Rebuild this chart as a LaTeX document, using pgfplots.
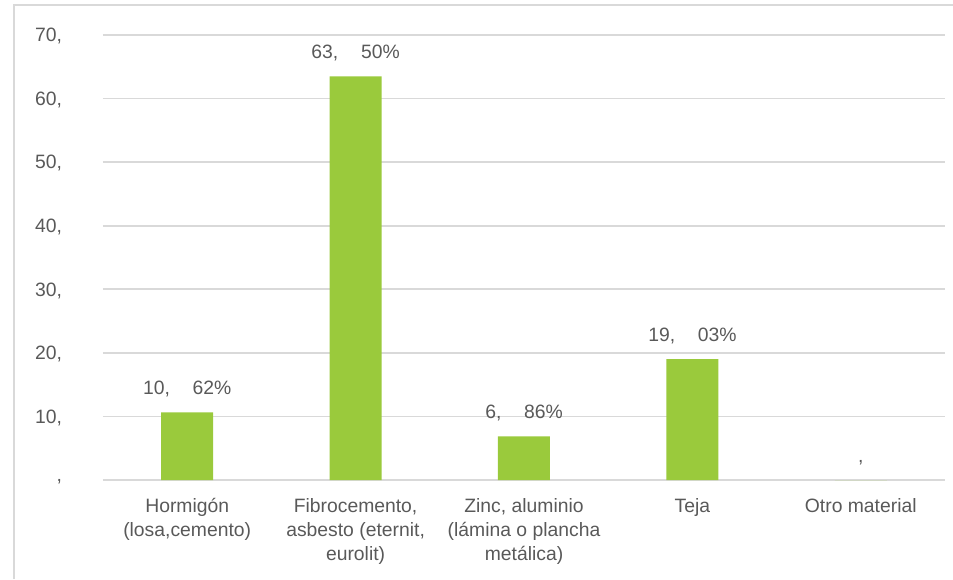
\documentclass[border=0pt]{standalone}
\usepackage{pgfplots}
\pgfplotsset{compat=1.18}
\usepackage{fontspec}
\setmainfont{Liberation Sans}
\definecolor{barg}{HTML}{9ACA3C}
\definecolor{txt}{HTML}{595959}
\definecolor{grd}{HTML}{D9D9D9}
\begin{document}
\begin{tikzpicture}[x=0.75pt,y=0.75pt]
\begin{axis}[
  at={(0,0)}, anchor=south west,
  scale only axis,
  width=631.5pt, height=333.75pt,
  xmin=-0.5, xmax=4.5,
  ymin=0, ymax=70,
  ytick={0,10,20,30,40,50,60,70},
  yticklabels={{,},{10,},{20,},{30,},{40,},{50,},{60,},{70,}},
  xtick={0,1,2,3,4},
  xticklabels={{Hormigón\\(losa,cemento)},{Fibrocemento,\\asbesto (eternit,\\eurolit)},{Zinc, aluminio\\(lámina o plancha\\metálica)},{Teja},{Otro material}},
  /pgf/number format/assume math mode=true,
  axis line style={draw=none},
  major tick length=0pt,
  ymajorgrids,
  grid style={grd, line width=1.3pt},
  tick label style={font=\fontsize{14.5}{18}\selectfont, text=txt},
  xticklabel style={align=center, anchor=north, yshift=-10pt},
  yticklabel style={anchor=east, inner sep=0pt, xshift=-30.5pt, yshift=-1pt},
  ybar, bar width=39pt,
  nodes near coords,
  point meta=explicit symbolic,
  nodes near coords style={font=\fontsize{14.5}{18}\selectfont, text=txt, anchor=south, yshift=8pt},
  clip=false,
]
\addplot[fill=barg, draw=none] coordinates {
  (0,10.62) [10,\hspace{17pt}62\%]
  (1,63.50) [63,\hspace{17pt}50\%]
  (2,6.86) [6,\hspace{17pt}86\%]
  (3,19.03) [19,\hspace{17pt}03\%]
  (4,0) [,]
};
\end{axis}
\draw[grd, line width=1.5pt] (-89,-99) -- (-89,475) -- (850,475);
\pgfresetboundingbox
\path[use as bounding box] (-103,-99) rectangle (850,480);
\end{tikzpicture}
\end{document}
